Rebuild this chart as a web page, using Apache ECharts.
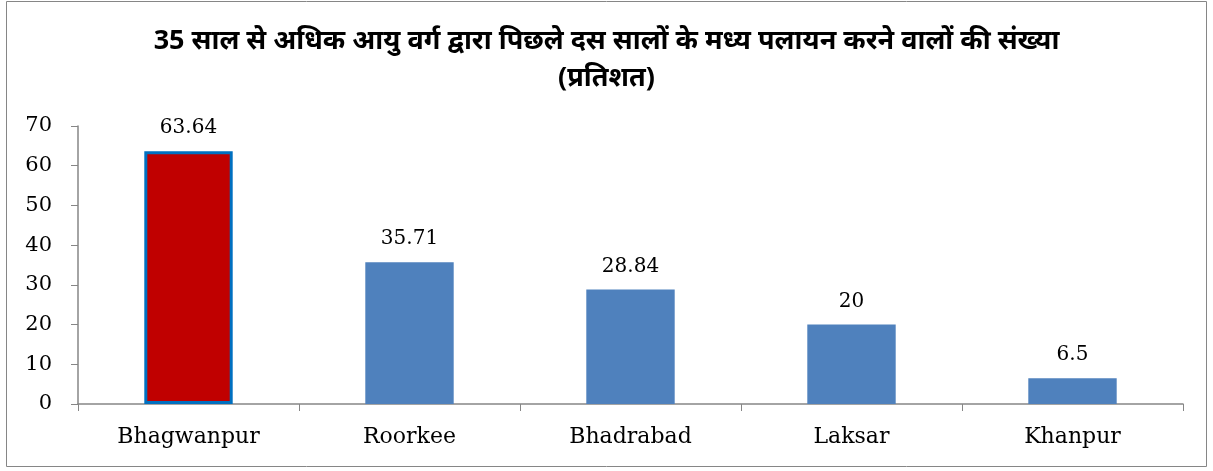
<!DOCTYPE html>
<html><head><meta charset="utf-8">
<script src="https://cdn.jsdelivr.net/npm/echarts@6/dist/echarts.min.js"></script>
<style>html,body{margin:0;padding:0;background:#fff}#c{width:1213px;height:471px}</style>
</head><body><div id="c"></div>
<script>
const categories = ["Bhagwanpur", "Roorkee", "Bhadrabad", "Laksar", "Khanpur"];
const values = [63.64, 35.71, 28.84, 20, 6.5];
const titleText = "35 साल से अधिक आयु वर्ग द्वारा पिछले दस सालों के मध्य पलायन करने वालों की संख्या\n(प्रतिशत)";

const chart = echarts.init(document.getElementById('c'), null, {renderer: 'canvas'});
const serif = "'DejaVu Serif', 'Liberation Serif', serif";
chart.setOption({
  animation: false,
  backgroundColor: '#fff',
  graphic: [{type: 'rect', shape: {x: 6.5, y: 1.5, width: 1200, height: 465}, style: {fill: 'none', stroke: '#868686', lineWidth: 1}}],
  title: {
    text: titleText, left: 'center', top: 18,
    textStyle: {fontFamily: "'Noto Sans', sans-serif", fontWeight: 'bold', fontSize: 27, color: '#000', lineHeight: 37}
  },
  grid: {left: 78, right: 30, top: 126, bottom: 67, containLabel: false},
  xAxis: {
    type: 'category', data: categories,
    axisLine: {lineStyle: {color: '#868686', width: 1.5}},
    axisTick: {show: true, alignWithLabel: false, length: 7, lineStyle: {color: '#868686'}},
    axisLabel: {fontFamily: serif, fontSize: 22, color: '#000', margin: 22}
  },
  yAxis: {
    type: 'value', min: 0, max: 70, interval: 10,
    splitLine: {show: false},
    axisLine: {show: true, lineStyle: {color: '#868686', width: 1.5}},
    axisTick: {show: true, length: 7, lineStyle: {color: '#868686'}},
    axisLabel: {fontFamily: serif, fontSize: 21, color: '#000', margin: 26}
  },
  series: [{
    type: 'bar', barWidth: '40%',
    data: values.map((v, i) => i === 0
      ? {value: v, itemStyle: {color: '#C00000', borderColor: '#0070C0', borderWidth: 3}}
      : {value: v, itemStyle: {color: '#4F81BD'}}),
    label: {show: true, position: 'top', distance: 13, fontFamily: serif, fontSize: 20, color: '#000'}
  }]
});
</script></body></html>
